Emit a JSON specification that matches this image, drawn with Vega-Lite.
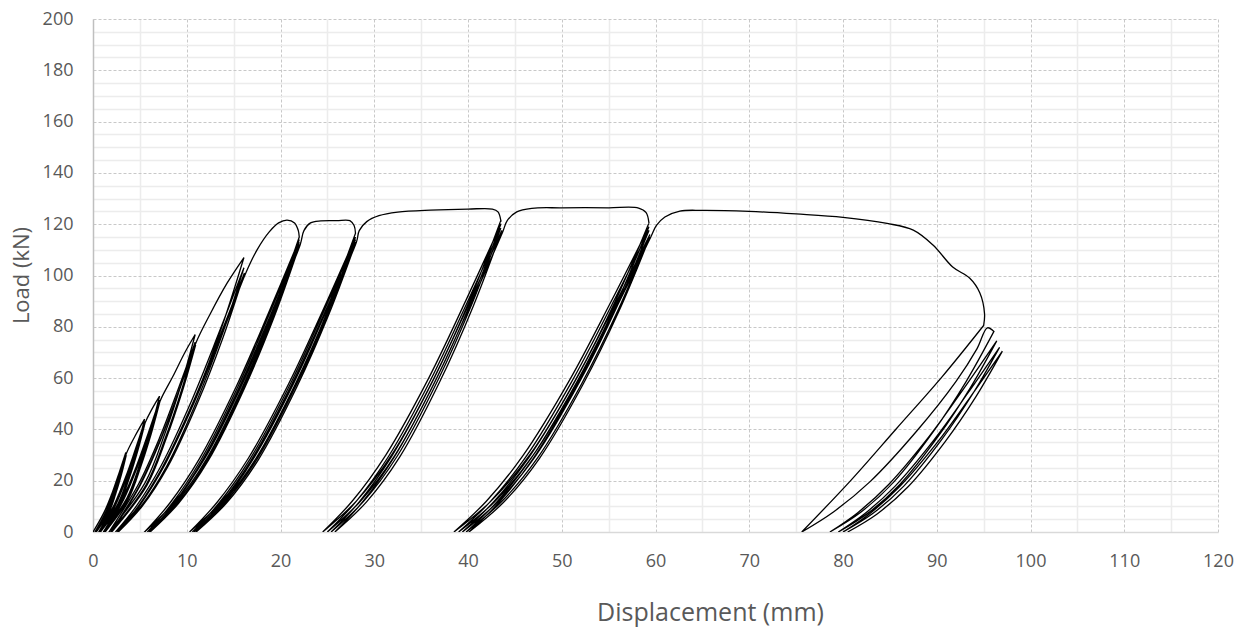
{
"$schema": "https://vega.github.io/schema/vega-lite/v6.json",
"width": 1125, "height": 513,
"autosize": {"type": "none"},
"padding": {"left": 93, "top": 19, "right": 27, "bottom": 96},
"background": "white",
"config": {"view": {"stroke": null}, "font": "Open Sans"},
"data": {"values": [
{"x":0,"y":0},{"x":0,"y":0},
{"x":1.19,"y":7.75},{"x":2.07,"y":15.5},{"x":2.8,"y":23.25},{"x":3.5,"y":31},{"x":3.5,"y":31},
{"x":2.97,"y":23.25},{"x":2.35,"y":15.5},{"x":1.59,"y":7.75},{"x":0.2,"y":0},{"x":0.2,"y":0},
{"x":1.32,"y":7.5},{"x":2.15,"y":15},{"x":2.84,"y":22.5},{"x":3.5,"y":30},{"x":3.5,"y":30},
{"x":2.99,"y":22.5},{"x":2.38,"y":15},{"x":1.64,"y":7.5},{"x":0.3,"y":0},{"x":0.3,"y":0},
{"x":1.41,"y":7.5},{"x":2.22,"y":15},{"x":2.9,"y":22.5},{"x":3.55,"y":30},{"x":3.55,"y":30},
{"x":3.04,"y":22.5},{"x":2.43,"y":15},{"x":1.69,"y":7.5},{"x":0.35,"y":0},{"x":0.35,"y":0},
{"x":1.44,"y":7.5},{"x":2.24,"y":15},{"x":2.91,"y":22.5},{"x":3.55,"y":30.5},{"x":4.5,"y":37.5},{"x":5.5,"y":44},{"x":5.5,"y":44},
{"x":4.72,"y":33},{"x":3.79,"y":22},{"x":2.66,"y":11},{"x":0.6,"y":0},{"x":0.6,"y":0},
{"x":2.27,"y":10.75},{"x":3.49,"y":21.5},{"x":4.52,"y":32.25},{"x":5.5,"y":43},{"x":5.5,"y":43},
{"x":4.73,"y":32.25},{"x":3.82,"y":21.5},{"x":2.72,"y":10.75},{"x":0.7,"y":0},{"x":0.7,"y":0},
{"x":2.35,"y":10.63},{"x":3.56,"y":21.25},{"x":4.58,"y":31.88},{"x":5.55,"y":42.5},{"x":5.55,"y":42.5},
{"x":4.79,"y":31.88},{"x":3.89,"y":21.25},{"x":2.8,"y":10.63},{"x":0.8,"y":0},{"x":0.8,"y":0},
{"x":2.42,"y":10.63},{"x":3.6,"y":21.25},{"x":4.6,"y":31.88},{"x":5.55,"y":42.5},{"x":6.3,"y":48},{"x":7.1,"y":53},{"x":7.1,"y":53},
{"x":6.14,"y":39.75},{"x":5.0,"y":26.5},{"x":3.62,"y":13.25},{"x":1.1,"y":0},{"x":1.1,"y":0},
{"x":3.14,"y":12.88},{"x":4.64,"y":25.75},{"x":5.9,"y":38.63},{"x":7.1,"y":51.5},{"x":7.1,"y":51.5},
{"x":6.16,"y":38.63},{"x":5.04,"y":25.75},{"x":3.68,"y":12.88},{"x":1.2,"y":0},{"x":1.2,"y":0},
{"x":3.22,"y":12.75},{"x":4.71,"y":25.5},{"x":5.96,"y":38.25},{"x":7.15,"y":51},{"x":7.15,"y":51},
{"x":6.21,"y":38.25},{"x":5.1,"y":25.5},{"x":3.76,"y":12.75},{"x":1.3,"y":0},{"x":1.3,"y":0},
{"x":3.29,"y":12.75},{"x":4.75,"y":25.5},{"x":5.98,"y":38.25},{"x":7.15,"y":51},{"x":8.5,"y":60.5},{"x":9.8,"y":70},{"x":10.9,"y":77},{"x":10.9,"y":77},
{"x":9.43,"y":57.75},{"x":7.68,"y":38.5},{"x":5.56,"y":19.25},{"x":1.7,"y":0},{"x":1.7,"y":0},
{"x":4.83,"y":18.5},{"x":7.13,"y":37},{"x":9.06,"y":55.5},{"x":10.9,"y":74},{"x":10.9,"y":74},
{"x":9.46,"y":55.5},{"x":7.75,"y":37},{"x":5.68,"y":18.5},{"x":1.9,"y":0},{"x":1.9,"y":0},
{"x":4.98,"y":18.25},{"x":7.24,"y":36.5},{"x":9.14,"y":54.75},{"x":10.95,"y":73},{"x":10.95,"y":73},
{"x":9.52,"y":54.75},{"x":7.82,"y":36.5},{"x":5.76,"y":18.25},{"x":2.0,"y":0},{"x":2.0,"y":0},
{"x":5.04,"y":18.25},{"x":7.28,"y":36.5},{"x":9.16,"y":54.75},{"x":10.95,"y":73.5},{"x":12.5,"y":85},{"x":14.3,"y":97},{"x":16.1,"y":107},{"x":16.1,"y":107},
{"x":13.77,"y":80.25},{"x":11.03,"y":53.5},{"x":7.74,"y":26.75},{"x":5.0,"y":10.7},{"x":2.4,"y":0},{"x":2.4,"y":0},
{"x":4.66,"y":10.3},{"x":7.25,"y":25.75},{"x":10.55,"y":51.5},{"x":13.39,"y":77.25},{"x":16.1,"y":103},{"x":16.1,"y":103},
{"x":13.81,"y":77.25},{"x":11.11,"y":51.5},{"x":7.87,"y":25.75},{"x":5.17,"y":10.3},{"x":2.6,"y":0},{"x":2.6,"y":0},
{"x":4.84,"y":10.1},{"x":7.4,"y":25.25},{"x":10.66,"y":50.5},{"x":13.47,"y":75.75},{"x":16.15,"y":101},{"x":16.15,"y":101},
{"x":13.86,"y":75.75},{"x":11.17,"y":50.5},{"x":7.95,"y":25.25},{"x":5.26,"y":10.1},{"x":2.7,"y":0},{"x":2.7,"y":0},
{"x":4.94,"y":10.1},{"x":7.51,"y":25.25},{"x":10.79,"y":50.5},{"x":13.61,"y":75.75},{"x":16.3,"y":101},{"x":17.5,"y":110},{"x":18.8,"y":117},{"x":19.8,"y":120.5},{"x":20.7,"y":121.6},{"x":21.5,"y":120.5},{"x":21.9,"y":117.5},{"x":22.0,"y":115},{"x":22.0,"y":115},
{"x":19.2,"y":86.25},{"x":15.9,"y":57.5},{"x":11.94,"y":28.75},{"x":8.64,"y":11.5},{"x":5.5,"y":0},{"x":5.5,"y":0},
{"x":8.22,"y":11.4},{"x":11.34,"y":28.5},{"x":15.32,"y":57},{"x":18.73,"y":85.5},{"x":22.0,"y":114},{"x":22.0,"y":114},
{"x":19.25,"y":85.5},{"x":16.01,"y":57},{"x":12.12,"y":28.5},{"x":8.88,"y":11.4},{"x":5.8,"y":0},{"x":5.8,"y":0},
{"x":8.47,"y":11.3},{"x":11.53,"y":28.25},{"x":15.44,"y":56.5},{"x":18.79,"y":84.75},{"x":22.0,"y":113},{"x":22.0,"y":113},
{"x":19.28,"y":84.75},{"x":16.08,"y":56.5},{"x":12.24,"y":28.25},{"x":9.04,"y":11.3},{"x":6.0,"y":0},{"x":6.0,"y":0},
{"x":8.65,"y":11.2},{"x":11.68,"y":28},{"x":15.55,"y":56},{"x":18.87,"y":84},{"x":22.05,"y":112},{"x":22.05,"y":112},
{"x":19.34,"y":84},{"x":16.15,"y":56},{"x":12.32,"y":28},{"x":9.13,"y":11.2},{"x":6.1,"y":0},{"x":6.1,"y":0},
{"x":8.74,"y":11.2},{"x":11.76,"y":28},{"x":15.62,"y":56},{"x":18.93,"y":84},{"x":22.1,"y":112},{"x":22.5,"y":117.5},{"x":23.2,"y":120.5},{"x":24.3,"y":121.3},{"x":26,"y":121.4},{"x":27.4,"y":121.4},{"x":27.85,"y":119.5},{"x":28.0,"y":116.5},{"x":28.0,"y":116.5},
{"x":24.99,"y":87.38},{"x":21.45,"y":58.25},{"x":17.2,"y":29.13},{"x":13.66,"y":11.65},{"x":10.3,"y":0},{"x":10.3,"y":0},
{"x":13.22,"y":11.5},{"x":16.57,"y":28.75},{"x":20.83,"y":57.5},{"x":24.5,"y":86.25},{"x":28.0,"y":115},{"x":28.0,"y":115},
{"x":25.04,"y":86.25},{"x":21.56,"y":57.5},{"x":17.39,"y":28.75},{"x":13.91,"y":11.5},{"x":10.6,"y":0},{"x":10.6,"y":0},
{"x":13.47,"y":11.4},{"x":16.76,"y":28.5},{"x":20.95,"y":57},{"x":24.55,"y":85.5},{"x":28.0,"y":114},{"x":28.0,"y":114},
{"x":25.08,"y":85.5},{"x":21.64,"y":57},{"x":17.51,"y":28.5},{"x":14.07,"y":11.4},{"x":10.8,"y":0},{"x":10.8,"y":0},
{"x":13.65,"y":11.3},{"x":16.91,"y":28.25},{"x":21.06,"y":56.5},{"x":24.63,"y":84.75},{"x":28.05,"y":113},{"x":28.05,"y":113},
{"x":25.15,"y":84.75},{"x":21.74,"y":56.5},{"x":17.65,"y":28.25},{"x":14.24,"y":11.3},{"x":11.0,"y":0},{"x":11.0,"y":0},
{"x":13.82,"y":11.3},{"x":17.05,"y":28.25},{"x":21.17,"y":56.5},{"x":24.71,"y":84.75},{"x":28.1,"y":113},{"x":28.4,"y":117.5},{"x":29.2,"y":121},{"x":30.5,"y":123.3},{"x":32.5,"y":124.7},{"x":36,"y":125.5},{"x":40,"y":125.9},{"x":42.6,"y":125.9},{"x":43.2,"y":124.8},{"x":43.5,"y":121.5},{"x":43.5,"y":121.5},
{"x":40.27,"y":91.13},{"x":36.47,"y":60.75},{"x":31.91,"y":30.38},{"x":28.11,"y":12.15},{"x":24.5,"y":0},{"x":24.5,"y":0},
{"x":27.64,"y":12},{"x":31.23,"y":30},{"x":35.81,"y":60},{"x":39.74,"y":90},{"x":43.5,"y":120},{"x":43.5,"y":120},
{"x":40.36,"y":90},{"x":36.66,"y":60},{"x":32.22,"y":30},{"x":28.52,"y":12},{"x":25.0,"y":0},{"x":25.0,"y":0},
{"x":28.05,"y":11.85},{"x":31.55,"y":29.63},{"x":36.01,"y":59.25},{"x":39.84,"y":88.88},{"x":43.5,"y":118.5},{"x":43.5,"y":118.5},
{"x":40.42,"y":88.88},{"x":36.8,"y":59.25},{"x":32.46,"y":29.63},{"x":28.84,"y":11.85},{"x":25.4,"y":0},{"x":25.4,"y":0},
{"x":28.4,"y":11.75},{"x":31.84,"y":29.38},{"x":36.23,"y":58.75},{"x":40.0,"y":88.13},{"x":43.6,"y":117.5},{"x":43.6,"y":117.5},
{"x":40.57,"y":88.13},{"x":37.01,"y":58.75},{"x":32.74,"y":29.38},{"x":29.18,"y":11.75},{"x":25.8,"y":0},{"x":25.8,"y":0},
{"x":28.75,"y":11.7},{"x":32.14,"y":29.25},{"x":36.45,"y":58.5},{"x":40.16,"y":87.75},{"x":43.7,"y":117},{"x":44.2,"y":121.5},{"x":45.2,"y":124.8},{"x":46.8,"y":126.2},{"x":50,"y":126.4},{"x":55,"y":126.4},{"x":58.2,"y":126.3},{"x":59.0,"y":124.5},{"x":59.3,"y":120.5},{"x":59.3,"y":120.5},
{"x":55.76,"y":90.38},{"x":51.6,"y":60.25},{"x":46.61,"y":30.13},{"x":42.45,"y":12.05},{"x":38.5,"y":0},{"x":38.5,"y":0},
{"x":41.93,"y":11.9},{"x":45.86,"y":29.75},{"x":50.88,"y":59.5},{"x":55.18,"y":89.25},{"x":59.3,"y":119},{"x":59.3,"y":119},
{"x":55.85,"y":89.25},{"x":51.79,"y":59.5},{"x":46.92,"y":29.75},{"x":42.86,"y":11.9},{"x":39.0,"y":0},{"x":39.0,"y":0},
{"x":42.35,"y":11.75},{"x":46.19,"y":29.38},{"x":51.08,"y":58.75},{"x":55.28,"y":88.13},{"x":59.3,"y":117.5},{"x":59.3,"y":117.5},
{"x":55.92,"y":88.13},{"x":51.94,"y":58.75},{"x":47.16,"y":29.38},{"x":43.18,"y":11.75},{"x":39.4,"y":0},{"x":39.4,"y":0},
{"x":42.7,"y":11.6},{"x":46.48,"y":29},{"x":51.3,"y":58},{"x":55.44,"y":87},{"x":59.4,"y":116},{"x":59.4,"y":116},
{"x":56.07,"y":87},{"x":52.15,"y":58},{"x":47.44,"y":29},{"x":43.52,"y":11.6},{"x":39.8,"y":0},{"x":39.8,"y":0},
{"x":43.03,"y":11.5},{"x":46.74,"y":28.75},{"x":51.46,"y":57.5},{"x":55.52,"y":86.25},{"x":59.4,"y":115},{"x":59.4,"y":115},
{"x":56.12,"y":86.25},{"x":52.26,"y":57.5},{"x":47.63,"y":28.75},{"x":43.77,"y":11.5},{"x":40.1,"y":0},{"x":40.1,"y":0},
{"x":43.3,"y":11.5},{"x":46.97,"y":28.75},{"x":51.64,"y":57.5},{"x":55.66,"y":86.25},{"x":59.5,"y":115},{"x":60.1,"y":119.5},{"x":61.0,"y":122.8},{"x":62.6,"y":125.1},{"x":65,"y":125.4},{"x":70,"y":125},{"x":75,"y":124},{"x":80,"y":122.7},{"x":84.7,"y":120.3},{"x":87.5,"y":117.7},{"x":89.6,"y":111.9},{"x":91.7,"y":103.3},{"x":93.5,"y":99},{"x":94.6,"y":93.2},{"x":95.1,"y":85},{"x":95.0,"y":80.5},{"x":95.0,"y":80.5},
{"x":90.54,"y":60.38},{"x":85.69,"y":40.25},{"x":80.84,"y":20.13},{"x":75.6,"y":0},{"x":75.6,"y":0},
{"x":78.98,"y":7.82},{"x":82.86,"y":19.55},{"x":87.8,"y":39.1},{"x":92.04,"y":58.65},{"x":94.3,"y":71.5},{"x":95.4,"y":79.6},{"x":96.1,"y":78.2},{"x":96.1,"y":78.2},
{"x":93.13,"y":58.65},{"x":89.63,"y":39.1},{"x":85.43,"y":19.55},{"x":81.93,"y":7.82},{"x":78.6,"y":0},{"x":78.6,"y":0},
{"x":81.54,"y":7.45},{"x":84.9,"y":18.63},{"x":89.19,"y":37.25},{"x":92.88,"y":55.88},{"x":96.4,"y":74.5},{"x":96.4,"y":74.5},
{"x":93.53,"y":55.88},{"x":90.15,"y":37.25},{"x":86.09,"y":18.63},{"x":82.71,"y":7.45},{"x":79.5,"y":0},{"x":79.5,"y":0},
{"x":82.34,"y":7.2},{"x":85.59,"y":18},{"x":89.73,"y":36},{"x":93.29,"y":54},{"x":96.7,"y":72},{"x":96.7,"y":72},
{"x":93.86,"y":54},{"x":90.52,"y":36},{"x":86.51,"y":18},{"x":83.17,"y":7.2},{"x":80.0,"y":0},{"x":80.0,"y":0},
{"x":82.81,"y":7.05},{"x":86.02,"y":17.63},{"x":90.12,"y":35.25},{"x":93.63,"y":52.88},{"x":97.0,"y":70.5},{"x":97.0,"y":70.5},
{"x":94.2,"y":52.88},{"x":90.9,"y":35.25},{"x":86.94,"y":17.63},{"x":83.64,"y":7.05},{"x":80.5,"y":0}
]},
"mark": {"type": "line", "color": "black", "strokeWidth": 1.3, "interpolate": "catmull-rom", "clip": true},
"encoding": {
"order": {"value": null},
"x": {"field": "x", "type": "quantitative",
  "scale": {"domain": [0, 120], "nice": false, "zero": true},
  "axis": {"title": "Displacement (mm)",
    "values": [0,5,10,15,20,25,30,35,40,45,50,55,60,65,70,75,80,85,90,95,100,105,110,115,120],
    "labelExpr": "datum.value % 10 === 0 ? datum.label : ''",
    "ticks": false, "domainColor": "#d9d9d9", "domainWidth": 1.5,
    "grid": true,
    "gridColor": {"condition": {"test": "datum.value % 10 === 0", "value": "#c8c8c8"}, "value": "#ececec"},
    "gridDash": {"condition": {"test": "datum.value % 10 === 0", "value": [3, 2]}, "value": []},
    "gridWidth": {"condition": {"test": "datum.value % 10 === 0", "value": 1}, "value": 1.5},
    "labelFont": "Open Sans", "labelFontSize": 18, "labelColor": "#595959", "labelPadding": 20,
    "labelFlush": false, "labelOverlap": false, "labelBound": false,
    "titleFont": "Open Sans", "titleFontSize": 25, "titleFontWeight": "normal", "titleColor": "#595959",
    "titleX": 617, "titleY": 88, "titleAlign": "center", "titleBaseline": "alphabetic", "titleAnchor": null}},
"y": {"field": "y", "type": "quantitative",
  "scale": {"domain": [0, 200], "nice": false, "zero": true},
  "axis": {"title": "Load (kN)",
    "values": [0,5,10,15,20,25,30,35,40,45,50,55,60,65,70,75,80,85,90,95,100,105,110,115,120,125,130,135,140,145,150,155,160,165,170,175,180,185,190,195,200],
    "labelExpr": "datum.value % 20 === 0 ? datum.label : ''",
    "ticks": false, "domainColor": "#bfbfbf", "domainWidth": 1.5,
    "grid": true,
    "gridColor": {"condition": {"test": "datum.value % 20 === 0", "value": "#c8c8c8"}, "value": "#ececec"},
    "gridDash": {"condition": {"test": "datum.value % 20 === 0", "value": [3, 2]}, "value": []},
    "gridWidth": {"condition": {"test": "datum.value % 20 === 0", "value": 1}, "value": 1.5},
    "labelFont": "Open Sans", "labelFontSize": 18, "labelColor": "#595959", "labelPadding": 20,
    "labelOverlap": false, "labelBound": false,
    "titleFont": "Open Sans", "titleFontSize": 22, "titleFontWeight": "normal", "titleColor": "#595959",
    "titleX": -72, "titleY": 256, "titleAngle": -90, "titleAlign": "center", "titleBaseline": "middle", "titleAnchor": null}}
}
}
